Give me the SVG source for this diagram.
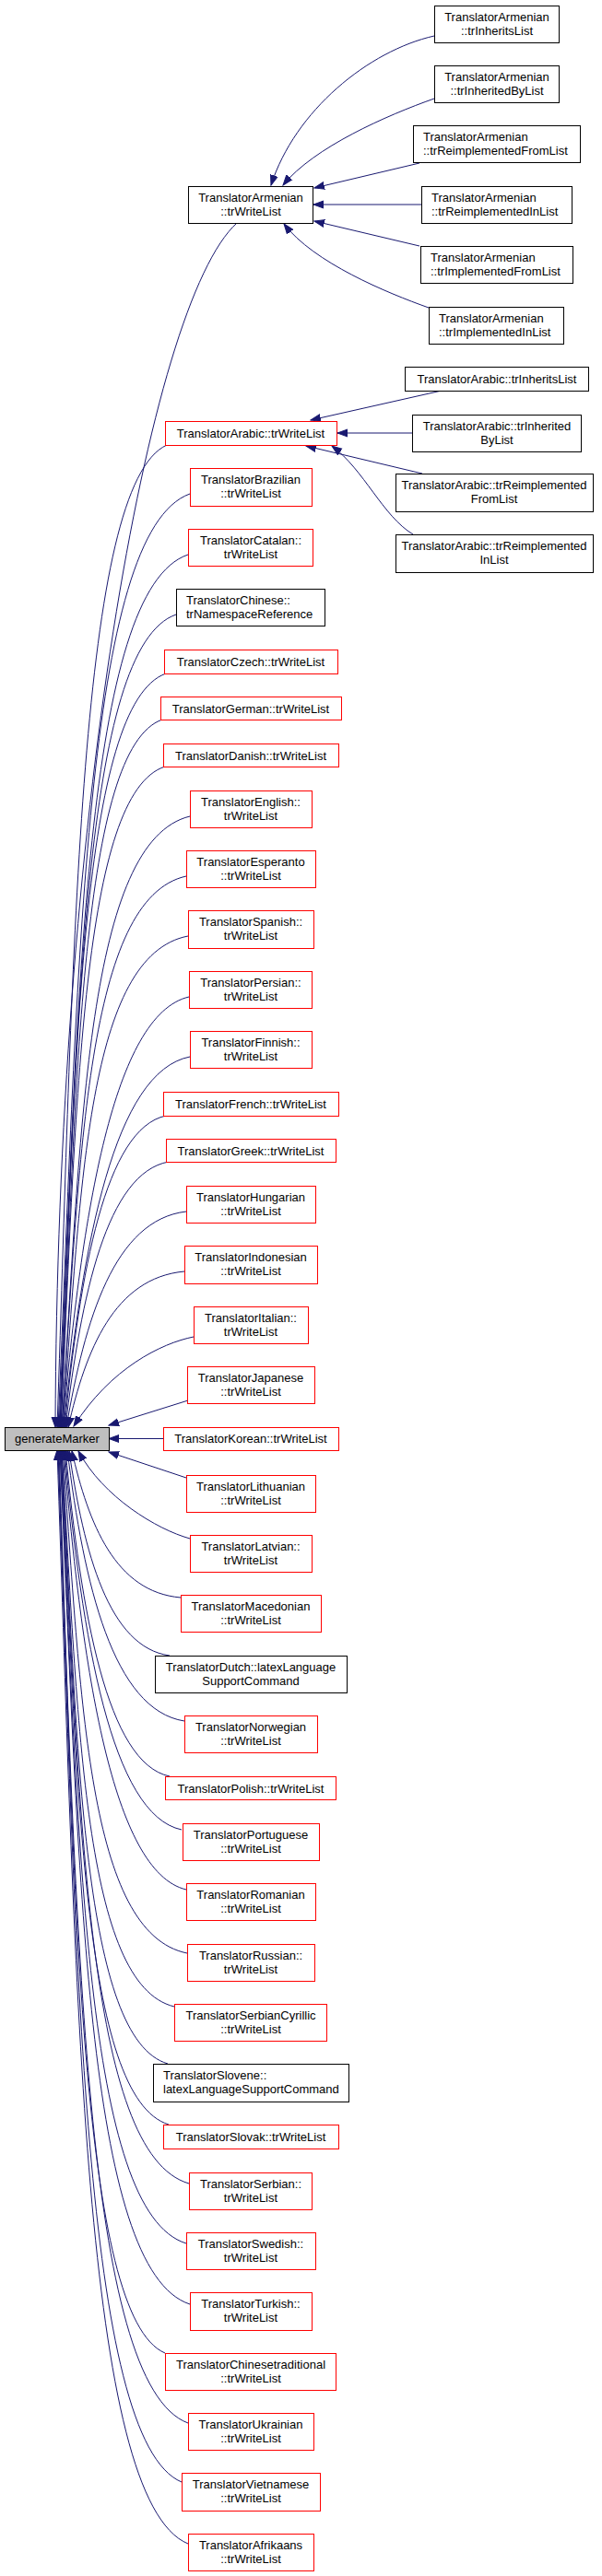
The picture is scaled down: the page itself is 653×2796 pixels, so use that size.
<svg xmlns="http://www.w3.org/2000/svg" width="653" height="2796" viewBox="0 0 653 2796">
<style>
text{font-family:"Liberation Sans",Arial,Helvetica,sans-serif;font-size:13px;fill:#000;text-anchor:middle}
text.l{text-anchor:start}
.node rect{fill:#fff;stroke:#000;stroke-width:1}
.red rect{stroke:#ff0000}
.root rect{fill:#bfbfbf}
#edges path{fill:none;stroke:#191970;stroke-width:1;marker-end:url(#ah)}
</style>
<defs>
<marker id="ah" markerUnits="userSpaceOnUse" markerWidth="12" markerHeight="10" viewBox="0 0 12 10" refX="11" refY="5" orient="auto">
<path d="M0,1 L11,5 L0,9 z" fill="#191970" stroke="#191970" stroke-width="1"/>
</marker>
</defs>
<rect x="0" y="0" width="653" height="2796" fill="#ffffff"/>
<g id="edges">
<path d="M257,242 C160,330 62,900 60,1549"/>
<path d="M181,483 C86,526 80,1016 62,1549"/>
<path d="M206,536 C92,577 85,1043 63,1549"/>
<path d="M204,602 C92,640 85,1076 64,1549"/>
<path d="M191,667 C90,702 84,1108 65,1549"/>
<path d="M180,731 C88,764 82,1140 65,1549"/>
<path d="M176,781 C88,812 83,1165 66,1549"/>
<path d="M179,832 C89,861 83,1191 66,1549"/>
<path d="M206,886 C95,913 88,1218 67,1549"/>
<path d="M202,951 C94,975 87,1250 67,1549"/>
<path d="M204,1016 C95,1037 88,1283 68,1549"/>
<path d="M205,1082 C123,1101 89,1316 68,1549"/>
<path d="M206,1147 C124,1163 90,1348 69,1549"/>
<path d="M180,1211 C114,1225 87,1380 70,1549"/>
<path d="M183,1261 C116,1273 88,1405 71,1549"/>
<path d="M202,1315 C124,1324 92,1432 72,1549"/>
<path d="M200,1380 C124,1387 93,1465 74,1549"/>
<path d="M210,1451 C175,1458 120,1485 80,1548"/>
<path d="M204,1520 L118,1547"/>
<path d="M177,1561.5 L118,1561.5"/>
<path d="M202,1604 L118,1576"/>
<path d="M206,1670 C170,1660 112,1625 85,1575"/>
<path d="M196,1734 C125,1728 96,1654 78,1575"/>
<path d="M184,1797 C118,1788 91,1686 75,1575"/>
<path d="M200,1868 C123,1856 91,1721 73,1574"/>
<path d="M184,1928 C116,1914 88,1751 71,1574"/>
<path d="M197,1986 C121,1970 89,1780 70,1574"/>
<path d="M202,2051 C122,2032 89,1813 69,1574"/>
<path d="M203,2120 C95,2098 88,1847 68,1574"/>
<path d="M189,2178 C91,2154 85,1876 67,1574"/>
<path d="M182,2240 C90,2213 84,1907 67,1574"/>
<path d="M183,2306 C89,2277 84,1940 66,1574"/>
<path d="M205,2370 C94,2338 87,1972 66,1574"/>
<path d="M202,2435 C92,2401 86,2005 65,1574"/>
<path d="M206,2501 C93,2464 86,2038 65,1574"/>
<path d="M179,2554 C87,2515 81,2064 64,1574"/>
<path d="M204,2630 C91,2588 84,2102 63,1574"/>
<path d="M197,2694 C90,2649 83,2134 63,1574"/>
<path d="M204,2761 C90,2714 83,2168 62,1574"/>
<path d="M471,39 C400,55 320,120 294,201"/>
<path d="M471,107 C420,125 340,160 307,201"/>
<path d="M455,177 L341,204"/>
<path d="M457,222 L340,222"/>
<path d="M455,267 L341,240"/>
<path d="M465,334 C420,318 340,285 308,243"/>
<path d="M479,424 L337,456"/>
<path d="M447,470 L366,470"/>
<path d="M458,514 L332,484"/>
<path d="M448,580 C415,560 395,510 360,484"/>
</g>
<g id="n_generateMarker" class="node root"><rect x="5.5" y="1549.5" width="113" height="25"/><text x="62" y="1566">generateMarker</text></g>
<g id="n_armenian_writelist" class="node"><rect x="204.5" y="202.5" width="135" height="40"/><text x="272" y="218.5">TranslatorArmenian</text><text x="272" y="233.5">::trWriteList</text></g>
<g id="n_armenian_inherits" class="node"><rect x="471.5" y="6.5" width="135" height="40"/><text x="539" y="22.5">TranslatorArmenian</text><text x="539" y="37.5">::trInheritsList</text></g>
<g id="n_armenian_inheritedby" class="node"><rect x="471.5" y="71.5" width="135" height="40"/><text x="539" y="87.5">TranslatorArmenian</text><text x="539" y="102.5">::trInheritedByList</text></g>
<g id="n_armenian_reimplfrom" class="node"><rect x="448.5" y="136.5" width="181" height="40"/><text class="l" x="459" y="152.5">TranslatorArmenian</text><text class="l" x="459" y="167.5">::trReimplementedFromList</text></g>
<g id="n_armenian_reimplin" class="node"><rect x="457.5" y="202.5" width="163" height="40"/><text class="l" x="468" y="218.5">TranslatorArmenian</text><text class="l" x="468" y="233.5">::trReimplementedInList</text></g>
<g id="n_armenian_implfrom" class="node"><rect x="456.5" y="267.5" width="165" height="40"/><text class="l" x="467" y="283.5">TranslatorArmenian</text><text class="l" x="467" y="298.5">::trImplementedFromList</text></g>
<g id="n_armenian_implin" class="node"><rect x="465.5" y="333.5" width="146" height="40"/><text class="l" x="476" y="349.5">TranslatorArmenian</text><text class="l" x="476" y="364.5">::trImplementedInList</text></g>
<g id="n_arabic_writelist" class="node red"><rect x="179.5" y="457.5" width="186" height="26"/><text x="272" y="475">TranslatorArabic::trWriteList</text></g>
<g id="n_arabic_inherits" class="node"><rect x="439.5" y="398.5" width="199" height="26"/><text x="539" y="416">TranslatorArabic::trInheritsList</text></g>
<g id="n_arabic_inheritedby" class="node"><rect x="447.5" y="450.5" width="183" height="40"/><text x="539" y="466.5">TranslatorArabic::trInherited</text><text x="539" y="481.5">ByList</text></g>
<g id="n_arabic_reimplfrom" class="node"><rect x="429.5" y="514.5" width="214" height="41"/><text x="536" y="530.5">TranslatorArabic::trReimplemented</text><text x="536" y="545.5">FromList</text></g>
<g id="n_arabic_reimplin" class="node"><rect x="429.5" y="580.5" width="214" height="41"/><text x="536" y="596.5">TranslatorArabic::trReimplemented</text><text x="536" y="611.5">InList</text></g>
<g id="n_brazilian" class="node red"><rect x="206.5" y="508.5" width="132" height="41"/><text x="272" y="524.5">TranslatorBrazilian</text><text x="272" y="539.5">::trWriteList</text></g>
<g id="n_catalan" class="node red"><rect x="204.5" y="574.5" width="135" height="40"/><text x="272" y="590.5">TranslatorCatalan::</text><text x="272" y="605.5">trWriteList</text></g>
<g id="n_chinese" class="node"><rect x="191.5" y="639.5" width="161" height="40"/><text class="l" x="202" y="655.5">TranslatorChinese::</text><text class="l" x="202" y="670.5">trNamespaceReference</text></g>
<g id="n_czech" class="node red"><rect x="178.5" y="705.5" width="188" height="26"/><text x="272" y="723">TranslatorCzech::trWriteList</text></g>
<g id="n_german" class="node red"><rect x="174.5" y="756.5" width="196" height="25"/><text x="272" y="773.5">TranslatorGerman::trWriteList</text></g>
<g id="n_danish" class="node red"><rect x="177.5" y="807.5" width="190" height="25"/><text x="272" y="824.5">TranslatorDanish::trWriteList</text></g>
<g id="n_english" class="node red"><rect x="206.5" y="858.5" width="132" height="40"/><text x="272" y="874.5">TranslatorEnglish::</text><text x="272" y="889.5">trWriteList</text></g>
<g id="n_esperanto" class="node red"><rect x="202.5" y="923.5" width="140" height="40"/><text x="272" y="939.5">TranslatorEsperanto</text><text x="272" y="954.5">::trWriteList</text></g>
<g id="n_spanish" class="node red"><rect x="204.5" y="988.5" width="136" height="41"/><text x="272" y="1004.5">TranslatorSpanish::</text><text x="272" y="1019.5">trWriteList</text></g>
<g id="n_persian" class="node red"><rect x="205.5" y="1054.5" width="133" height="40"/><text x="272" y="1070.5">TranslatorPersian::</text><text x="272" y="1085.5">trWriteList</text></g>
<g id="n_finnish" class="node red"><rect x="206.5" y="1119.5" width="132" height="40"/><text x="272" y="1135.5">TranslatorFinnish::</text><text x="272" y="1150.5">trWriteList</text></g>
<g id="n_french" class="node red"><rect x="177.5" y="1185.5" width="190" height="26"/><text x="272" y="1203">TranslatorFrench::trWriteList</text></g>
<g id="n_greek" class="node red"><rect x="180.5" y="1236.5" width="184" height="25"/><text x="272" y="1253.5">TranslatorGreek::trWriteList</text></g>
<g id="n_hungarian" class="node red"><rect x="202.5" y="1287.5" width="140" height="40"/><text x="272" y="1303.5">TranslatorHungarian</text><text x="272" y="1318.5">::trWriteList</text></g>
<g id="n_indonesian" class="node red"><rect x="200.5" y="1352.5" width="144" height="41"/><text x="272" y="1368.5">TranslatorIndonesian</text><text x="272" y="1383.5">::trWriteList</text></g>
<g id="n_italian" class="node red"><rect x="210.5" y="1418.5" width="124" height="40"/><text x="272" y="1434.5">TranslatorItalian::</text><text x="272" y="1449.5">trWriteList</text></g>
<g id="n_japanese" class="node red"><rect x="203.5" y="1483.5" width="138" height="40"/><text x="272" y="1499.5">TranslatorJapanese</text><text x="272" y="1514.5">::trWriteList</text></g>
<g id="n_korean" class="node red"><rect x="177.5" y="1549.5" width="190" height="25"/><text x="272" y="1566">TranslatorKorean::trWriteList</text></g>
<g id="n_lithuanian" class="node red"><rect x="202.5" y="1601.5" width="140" height="40"/><text x="272" y="1617.5">TranslatorLithuanian</text><text x="272" y="1632.5">::trWriteList</text></g>
<g id="n_latvian" class="node red"><rect x="206.5" y="1666.5" width="132" height="40"/><text x="272" y="1682.5">TranslatorLatvian::</text><text x="272" y="1697.5">trWriteList</text></g>
<g id="n_macedonian" class="node red"><rect x="196.5" y="1731.5" width="152" height="40"/><text x="272" y="1747.5">TranslatorMacedonian</text><text x="272" y="1762.5">::trWriteList</text></g>
<g id="n_dutch" class="node"><rect x="168.5" y="1797.5" width="208" height="40"/><text x="272" y="1813.5">TranslatorDutch::latexLanguage</text><text x="272" y="1828.5">SupportCommand</text></g>
<g id="n_norwegian" class="node red"><rect x="200.5" y="1862.5" width="144" height="40"/><text x="272" y="1878.5">TranslatorNorwegian</text><text x="272" y="1893.5">::trWriteList</text></g>
<g id="n_polish" class="node red"><rect x="179.5" y="1928.5" width="185" height="25"/><text x="272" y="1945.5">TranslatorPolish::trWriteList</text></g>
<g id="n_portuguese" class="node red"><rect x="198.5" y="1979.5" width="148" height="40"/><text x="272" y="1995.5">TranslatorPortuguese</text><text x="272" y="2010.5">::trWriteList</text></g>
<g id="n_romanian" class="node red"><rect x="202.5" y="2044.5" width="140" height="40"/><text x="272" y="2060.5">TranslatorRomanian</text><text x="272" y="2075.5">::trWriteList</text></g>
<g id="n_russian" class="node red"><rect x="203.5" y="2110.5" width="138" height="40"/><text x="272" y="2126.5">TranslatorRussian::</text><text x="272" y="2141.5">trWriteList</text></g>
<g id="n_serbiancyrillic" class="node red"><rect x="189.5" y="2175.5" width="165" height="40"/><text x="272" y="2191.5">TranslatorSerbianCyrillic</text><text x="272" y="2206.5">::trWriteList</text></g>
<g id="n_slovene" class="node"><rect x="166.5" y="2240.5" width="212" height="41"/><text class="l" x="177" y="2256.5">TranslatorSlovene::</text><text class="l" x="177" y="2271.5">latexLanguageSupportCommand</text></g>
<g id="n_slovak" class="node red"><rect x="177.5" y="2306.5" width="190" height="26"/><text x="272" y="2324">TranslatorSlovak::trWriteList</text></g>
<g id="n_serbian" class="node red"><rect x="205.5" y="2358.5" width="133" height="40"/><text x="272" y="2374.5">TranslatorSerbian::</text><text x="272" y="2389.5">trWriteList</text></g>
<g id="n_swedish" class="node red"><rect x="202.5" y="2423.5" width="140" height="40"/><text x="272" y="2439.5">TranslatorSwedish::</text><text x="272" y="2454.5">trWriteList</text></g>
<g id="n_turkish" class="node red"><rect x="206.5" y="2488.5" width="132" height="41"/><text x="272" y="2504.5">TranslatorTurkish::</text><text x="272" y="2519.5">trWriteList</text></g>
<g id="n_chinesetraditional" class="node red"><rect x="179.5" y="2554.5" width="185" height="40"/><text x="272" y="2570.5">TranslatorChinesetraditional</text><text x="272" y="2585.5">::trWriteList</text></g>
<g id="n_ukrainian" class="node red"><rect x="204.5" y="2619.5" width="136" height="40"/><text x="272" y="2635.5">TranslatorUkrainian</text><text x="272" y="2650.5">::trWriteList</text></g>
<g id="n_vietnamese" class="node red"><rect x="197.5" y="2684.5" width="150" height="41"/><text x="272" y="2700.5">TranslatorVietnamese</text><text x="272" y="2715.5">::trWriteList</text></g>
<g id="n_afrikaans" class="node red"><rect x="204.5" y="2750.5" width="136" height="40"/><text x="272" y="2766.5">TranslatorAfrikaans</text><text x="272" y="2781.5">::trWriteList</text></g>
</svg>
